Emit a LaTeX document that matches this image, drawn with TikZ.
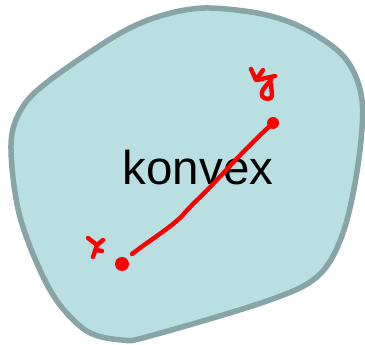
\documentclass[tikz,border=0pt]{standalone}
\usepackage{fontspec}
\setmainfont{Liberation Sans}
\definecolor{blobfill}{HTML}{B9DFE3}
\definecolor{blobline}{HTML}{87A5A7}
\definecolor{pen}{HTML}{FF0000}
\begin{document}
\begin{tikzpicture}[x=1pt,y=-1pt,
  blob/.style={fill=blobfill,draw=blobline,line width=5.5pt},
  ink/.style={draw=pen,line width=4.4pt,line cap=round,line join=round},
  lbl/.style={inner sep=0pt,font=\fontsize{47.5}{50}\selectfont}]
\useasboundingbox (0,0) rectangle (365,345);
\draw[blob] plot[smooth cycle,tension=0.55] coordinates {
 (205,8) (262,14) (305,29) (345,58) (362,100) (358,165) (343,233) (318,276) (267,301)
 (150,336) (122,340) (85,330) (50,290) (20,217) (11,145) (22,108) (50,80) (117,35) (160,16)};
\node[lbl,anchor=base] (t) at (198,185) {konvex};
\coordinate (p) at (122,264);
\coordinate (q) at (273,123);
\fill[pen] (p) circle (7pt);
\fill[pen] (q) circle (6pt);
\draw[ink] (132,254) .. controls (150,240) and (170,228) .. (182,216)
  .. controls (192,204) and (205,193) .. (213,184)
  .. controls (230,166) and (250,144) .. (272,124);
% x label
\draw[ink] (88,238) -- (97,245) -- (103,240);
\draw[ink] (97,245) -- (93,257);
\draw[ink] (96,250) -- (102,251);
% y label
\draw[ink] (251,69) -- (256,80) -- (263,70);
\draw[ink] (257,80) -- (275,76);
\draw[ink] (271,80) .. controls (266,86) and (260,91) .. (262,96)
  .. controls (264,100) and (273,100) .. (272,95) -- (271,84);
\end{tikzpicture}
\end{document}
